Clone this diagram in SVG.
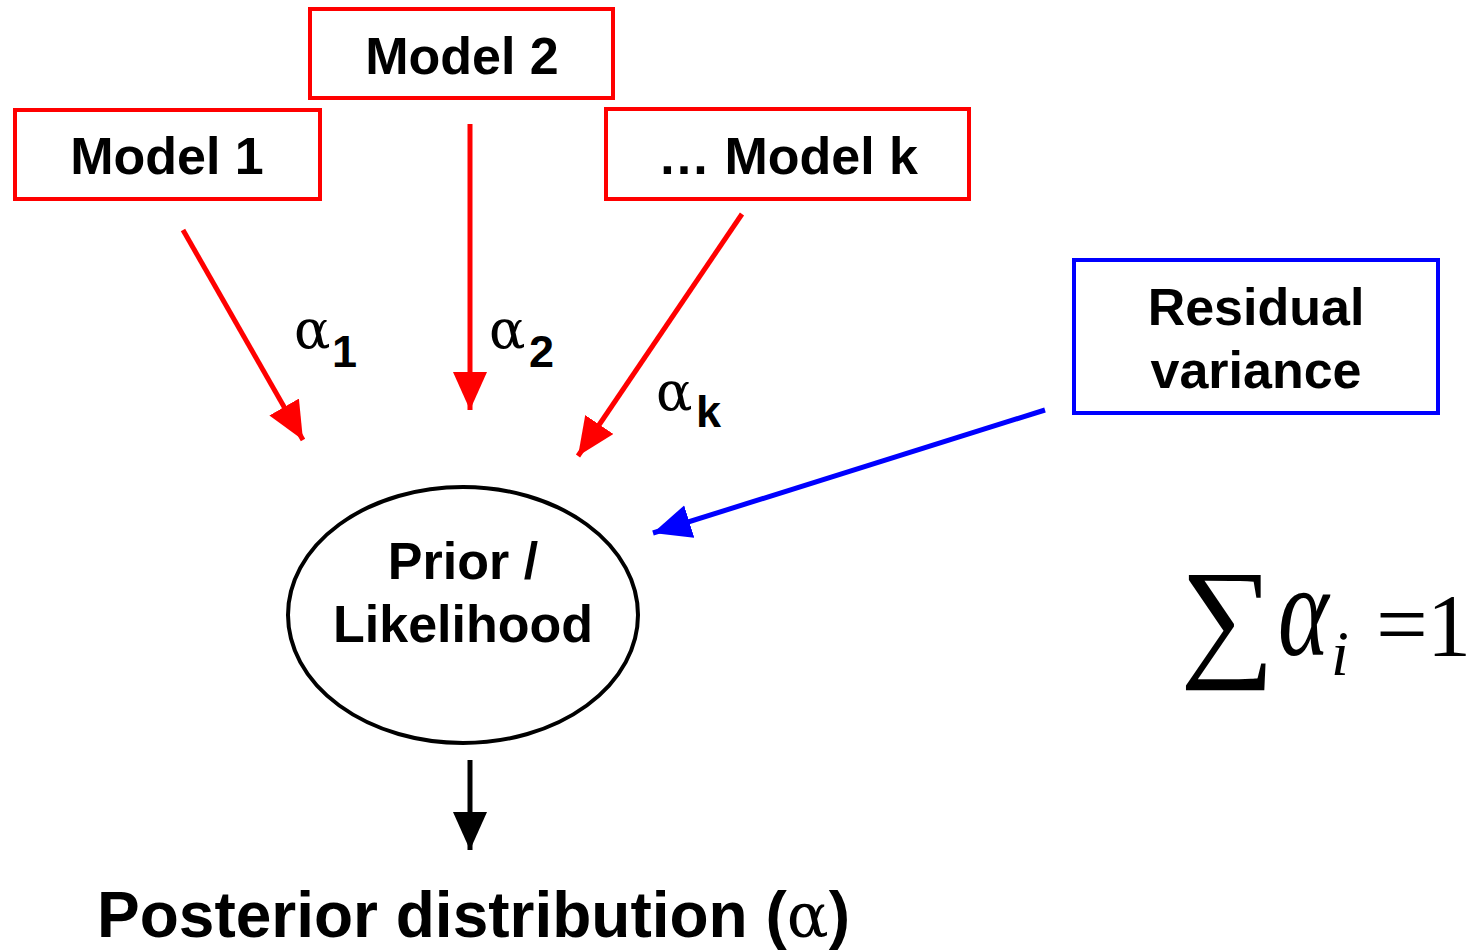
<svg xmlns="http://www.w3.org/2000/svg" width="1473" height="952" viewBox="0 0 1473 952">
  <style>
    .box-red { fill: #ffffff; stroke: #ff0000; stroke-width: 4; }
    .box-blue { fill: #ffffff; stroke: #0000ff; stroke-width: 4; }
    .label { font-family: "Liberation Sans", Arial, sans-serif; font-weight: bold; font-size: 52px; fill: #000; text-anchor: middle; }
    .greek { font-family: "DejaVu Serif", "Liberation Serif", serif; font-size: 54px; fill: #000; }
    .sub { font-family: "Liberation Sans", Arial, sans-serif; font-weight: bold; font-size: 45px; fill: #000; }
    .math { font-family: "Liberation Serif", "Times New Roman", serif; fill: #000; }
    .edge-red { stroke: #ff0000; stroke-width: 5; fill: none; }
    .edge-blue { stroke: #0000ff; stroke-width: 5; fill: none; }
    .edge-black { stroke: #000; stroke-width: 5; fill: none; }
  </style>
  <defs>
    <marker id="head-red" markerUnits="userSpaceOnUse" markerWidth="40" markerHeight="36" refX="38" refY="17" orient="auto">
      <path d="M0,0 L38,17 L0,34 z" fill="#ff0000"/>
    </marker>
    <marker id="head-blue" markerUnits="userSpaceOnUse" markerWidth="40" markerHeight="36" refX="38" refY="17" orient="auto">
      <path d="M0,0 L38,17 L0,34 z" fill="#0000ff"/>
    </marker>
    <marker id="head-black" markerUnits="userSpaceOnUse" markerWidth="40" markerHeight="36" refX="38" refY="17" orient="auto">
      <path d="M0,0 L38,17 L0,34 z" fill="#000"/>
    </marker>
  </defs>

  <rect width="1473" height="952" fill="#ffffff"/>

  <g id="model2">
    <rect class="box-red" x="310" y="9" width="303" height="89"/>
    <text class="label" x="462" y="74">Model 2</text>
  </g>
  <g id="model1">
    <rect class="box-red" x="15" y="110" width="305" height="89"/>
    <text class="label" x="167" y="174">Model 1</text>
  </g>
  <g id="modelk">
    <rect class="box-red" x="606" y="109" width="363" height="90"/>
    <text class="label" x="788" y="174">… Model k</text>
  </g>
  <g id="residual">
    <rect class="box-blue" x="1074" y="260" width="364" height="153"/>
    <text class="label" x="1256" y="325">Residual</text>
    <text class="label" x="1256" y="388">variance</text>
  </g>
  <g id="prior">
    <ellipse cx="463" cy="615" rx="175" ry="128" fill="#ffffff" stroke="#000" stroke-width="4"/>
    <text class="label" x="463" y="579">Prior /</text>
    <text class="label" x="463" y="642">Likelihood</text>
  </g>
  <g id="posterior">
    <text font-family="Liberation Sans, Arial, sans-serif" font-weight="bold" font-size="64" x="97" y="937">Posterior distribution (<tspan font-family="DejaVu Serif, Liberation Serif, serif" font-weight="normal" font-size="62">α</tspan>)</text>
  </g>

  <g id="connectors">
    <line class="edge-red" x1="183" y1="230" x2="303" y2="440" marker-end="url(#head-red)"/>
    <line class="edge-red" x1="470" y1="124" x2="470" y2="410" marker-end="url(#head-red)"/>
    <line class="edge-red" x1="742" y1="214" x2="578" y2="456" marker-end="url(#head-red)"/>
    <line class="edge-blue" x1="1045" y1="410" x2="653" y2="533" marker-end="url(#head-blue)"/>
    <line class="edge-black" x1="470" y1="760" x2="470" y2="850" marker-end="url(#head-black)"/>
  </g>

  <g id="weights">
    <text class="greek" x="294" y="348">α</text><text class="sub" x="332" y="367">1</text>
    <text class="greek" x="489" y="348">α</text><text class="sub" x="529" y="367">2</text>
    <text class="greek" x="656" y="410">α</text><text class="sub" x="696" y="427">k</text>
  </g>

  <g id="constraint">
    <text class="math" font-size="133" x="1180" y="662">∑</text>
    <text class="math" font-size="88" font-style="italic" transform="translate(1278,655) scale(1.1,1.5)" x="0" y="0">α</text>
    <text class="math" font-size="64" font-style="italic" x="1331" y="675">i</text>
    <text class="math" font-size="92" x="1376" y="655">=</text>
    <text class="math" font-size="88" x="1427" y="655">1</text>
  </g>
</svg>
